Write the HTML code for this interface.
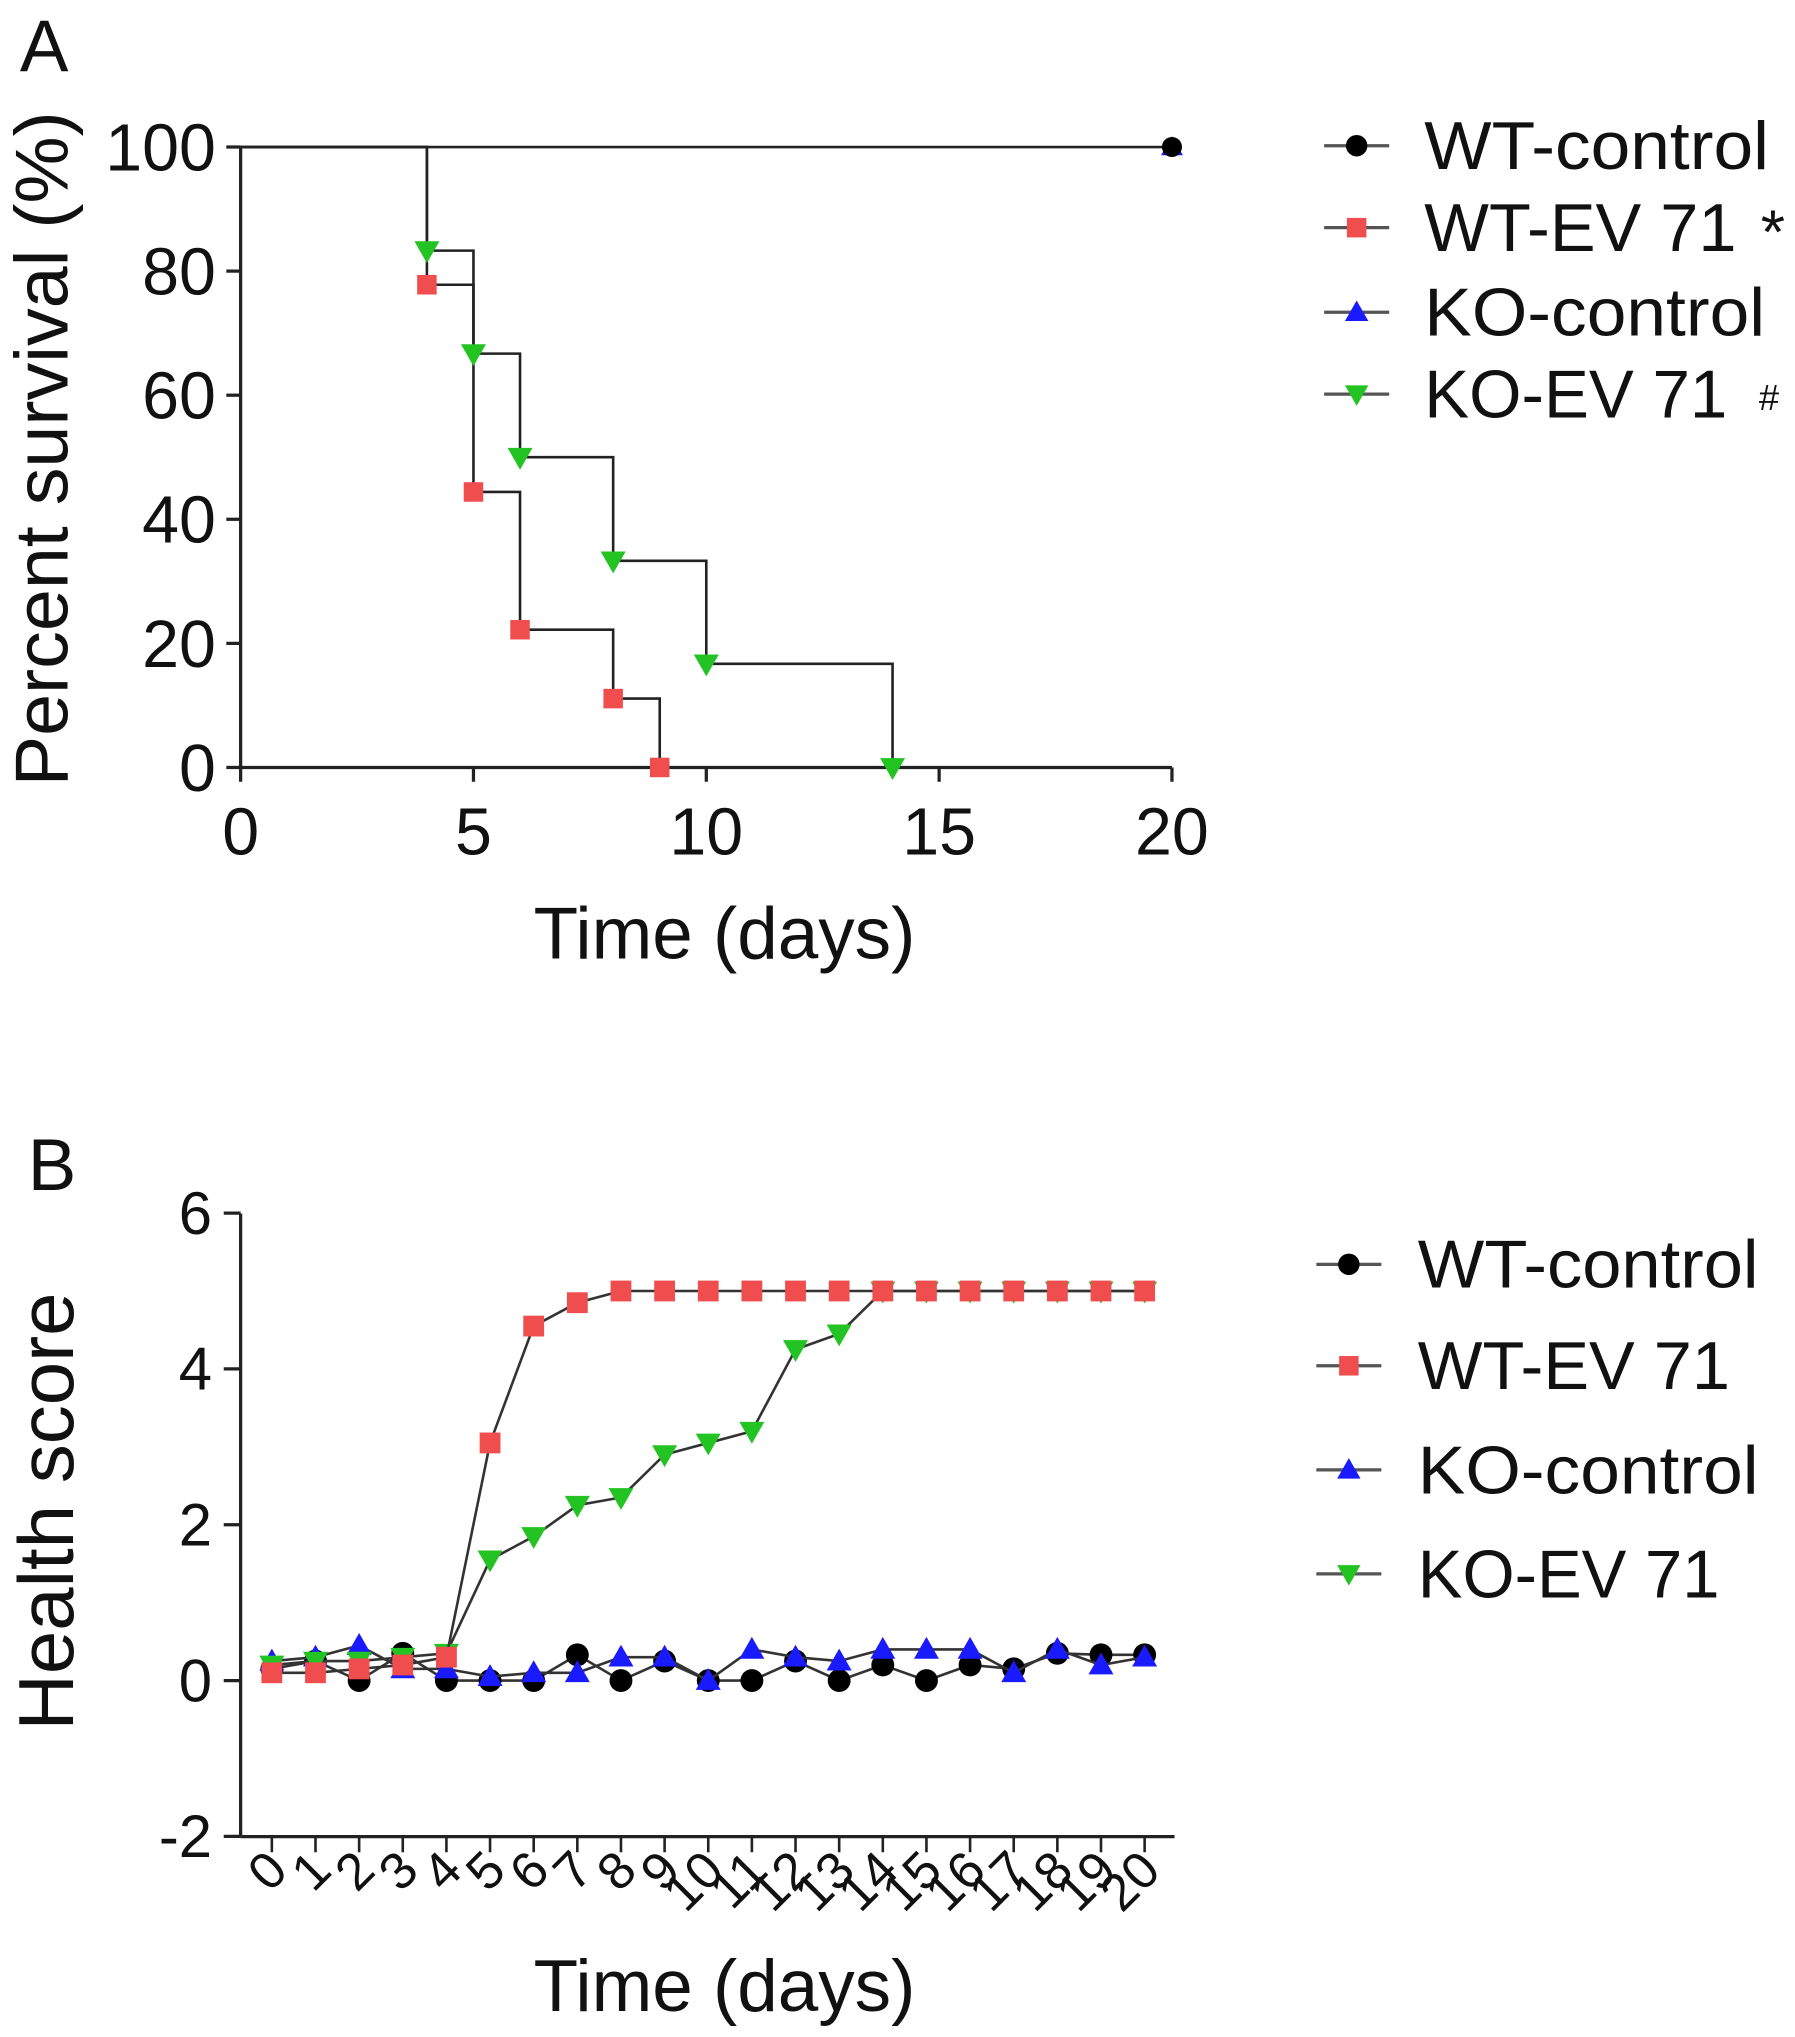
<!DOCTYPE html>
<html><head><meta charset="utf-8"><style>
html,body{margin:0;padding:0;background:#fff}
svg{display:block;font-family:"Liberation Sans",Arial,sans-serif}
</style></head><body>
<svg id="s" width="1795" height="2037" viewBox="0 0 1380 1566" xmlns="http://www.w3.org/2000/svg">
<g id="A"></g>
<g id="B"></g>
</svg>
<script>
// ---- Panel A data ----
const aXTicks=[0,5,10,15,20];
const aYTicks=[0,20,40,60,80,100];
const wtEvTimes=[0,4,5,6,8,9];
const wtEvSurv=[100,77.8,44.4,22.2,11.1,0];
const koEvTimes=[0,4,5,6,8,10,14];
const koEvSurv=[100,83.3,66.7,50,33.3,16.7,0];
const wtCtlTimes=[0,20];
const wtCtlSurv=[100,100];
// ---- Panel B data ----
const bDays=[0,1,2,3,4,5,6,7,8,9,10,11,12,13,14,15,16,17,18,19,20];
const bYTicks=[-2,0,2,4,6];
const wtCtl=[0.15,0.25,0,0.35,0,0,0,0.33,0,0.25,0,0,0.25,0,0.2,0,0.2,0.15,0.35,0.33,0.33];
const wtEv=[0.1,0.1,0.15,0.2,0.3,3.05,4.55,4.85,5,5,5,5,5,5,5,5,5,5,5,5,5];
const koCtl=[0.25,0.3,0.45,0.15,0.15,0.05,0.1,0.1,0.3,0.3,0,0.4,0.3,0.25,0.4,0.4,0.4,0.1,0.4,0.2,0.3];
const koEv=[0.2,0.25,0.25,0.3,0.35,1.55,1.85,2.25,2.35,2.9,3.05,3.2,4.25,4.45,5,5,5,5,5,5,5];

const NS="http://www.w3.org/2000/svg";
const RED="#f04e4e",GREEN="#22c322",BLUE="#1a1aff";
function el(p,t,a){const e=document.createElementNS(NS,t);for(const k in a)e.setAttribute(k,a[k]);p.appendChild(e);return e;}
function marker(g,type,x,y,s){
  let m;
  if(type==='circle'){m=el(g,'circle',{cx:x,cy:y,r:s*0.55,fill:'#000'});}
  else if(type==='square'){m=el(g,'rect',{x:x-s/2,y:y-s/2,width:s,height:s,fill:RED});}
  else if(type==='up'){m=el(g,'polygon',{points:`${x-s*0.6},${y+s*0.45} ${x+s*0.6},${y+s*0.45} ${x},${y-s*0.6}`,fill:BLUE});}
  else {m=el(g,'polygon',{points:`${x-s*0.6},${y-s*0.45} ${x+s*0.6},${y-s*0.45} ${x},${y+s*0.6}`,fill:GREEN});}
  return m;
}
const A=document.getElementById('A');
const ax=v=>185+v*35.8, ay=v=>590-v*4.77;
function txt(g,x,y,s,size,anchor,name,rot,len){const t=el(g,'text',{x:x,y:y,'font-size':size,'text-anchor':anchor||'middle',fill:'#111'});if(rot)t.setAttribute('transform',rot);if(len){t.setAttribute('textLength',len);t.setAttribute('lengthAdjust','spacingAndGlyphs');}t.textContent=s;return t;}
txt(A,34,55,'A',56,'middle','panel-a-label');
el(A,'line',{x1:185,y1:113,x2:185,y2:590,stroke:'#222','stroke-width':2.5});
el(A,'line',{x1:185,y1:590,x2:901,y2:590,stroke:'#222','stroke-width':2.5});
aYTicks.forEach(v=>{el(A,'line',{x1:174,y1:ay(v),x2:185,y2:ay(v),stroke:'#222','stroke-width':2.5});txt(A,166,ay(v)+18,String(v),51,'end','y-tick-label');});
aXTicks.forEach(v=>{el(A,'line',{x1:ax(v),y1:590,x2:ax(v),y2:601,stroke:'#222','stroke-width':2.5});txt(A,ax(v),657,String(v),51,'middle','x-tick-label');});
txt(A,52,345,'Percent survival (%)',58,'middle','y-axis-title','rotate(-90 52 345)');
txt(A,557,737,'Time (days)',56,'middle','x-axis-title');
function stepPath(g,ts,vs,name){let d=`M${ax(ts[0])},${ay(vs[0])}`;for(let i=1;i<ts.length;i++){d+=` H${ax(ts[i])} V${ay(vs[i])}`;}const p=el(g,'path',{d:d,fill:'none',stroke:'#222','stroke-width':2});}
stepPath(A,wtCtlTimes,wtCtlSurv,'wt-control-curve');
stepPath(A,wtEvTimes,wtEvSurv,'wt-ev71-curve');
stepPath(A,koEvTimes,koEvSurv,'ko-ev71-curve');
for(let i=1;i<wtEvTimes.length;i++){const m=marker(A,'square',ax(wtEvTimes[i]),ay(wtEvSurv[i]),15);}
for(let i=1;i<koEvTimes.length;i++){const m=marker(A,'down',ax(koEvTimes[i]),ay(koEvSurv[i]),16);}
{const m=marker(A,'up',ax(20),ay(100),14);}
{const m=marker(A,'circle',ax(20),ay(100),14);}
function legend(g,x0,tx,ys,labels,lens,types,sizeTxt,prefix){
  labels.forEach((l,i)=>{const lg=el(g,'g',{});
    el(lg,'line',{x1:x0,y1:ys[i],x2:x0+50,y2:ys[i],stroke:'#555','stroke-width':2.5});
    marker(lg,types[i],x0+25,ys[i],15);
    txt(lg,tx,ys[i]+18,l,sizeTxt,'start','legend-label',null,lens[i]);});
}
legend(A,1018,1095,[112,175,240,303],['WT-control','WT-EV 71','KO-control','KO-EV 71'],[265,240,262,233],['circle','square','up','down'],52,'a');
txt(A,1363,195,'*',48,'middle','significance-star');
txt(A,1360,315,'#',28,'middle','significance-hash');

// ---- Panel B ----
const B=document.getElementById('B');
const bx=v=>209+v*33.55, by=v=>1292-v*59.9;
txt(B,40,915,'B',56,'middle','panel-b-label');
el(B,'line',{x1:185,y1:933,x2:185,y2:1412,stroke:'#222','stroke-width':2.5});
el(B,'line',{x1:185,y1:1412,x2:903,y2:1412,stroke:'#222','stroke-width':2.5});
bYTicks.forEach(v=>{el(B,'line',{x1:172,y1:by(v),x2:185,y2:by(v),stroke:'#222','stroke-width':2.5});txt(B,163,by(v)+16,String(v),46,'end','y-tick-label');});
bDays.forEach(d=>{el(B,'line',{x1:bx(d),y1:1412,x2:bx(d),y2:1424,stroke:'#222','stroke-width':2});const X=bx(d)+14,Y=1440;txt(B,X,Y,String(d),40,'end','x-tick-label',`rotate(-45 ${X} ${Y})`);});
txt(B,56,1162,'Health score',60,'middle','y-axis-title','rotate(-90 56 1162)');
txt(B,557,1546,'Time (days)',56,'middle','x-axis-title');
function series(vals,type,name){const g=el(B,'g',{});
  el(g,'polyline',{points:bDays.map((d,i)=>bx(d)+','+by(vals[i])).join(' '),fill:'none',stroke:'#333','stroke-width':2});
  bDays.forEach((d,i)=>{const m=marker(g,type,bx(d),by(vals[i]),16);});}
series(wtCtl,'circle','wt-control-series');
series(koCtl,'up','ko-control-series');
series(koEv,'down','ko-ev71-series');
series(wtEv,'square','wt-ev71-series');
legend(B,1012,1090,[972,1050,1130,1210],['WT-control','WT-EV 71','KO-control','KO-EV 71'],[262,240,262,232],['circle','square','up','down'],52,'b');
</script>
</body></html>
